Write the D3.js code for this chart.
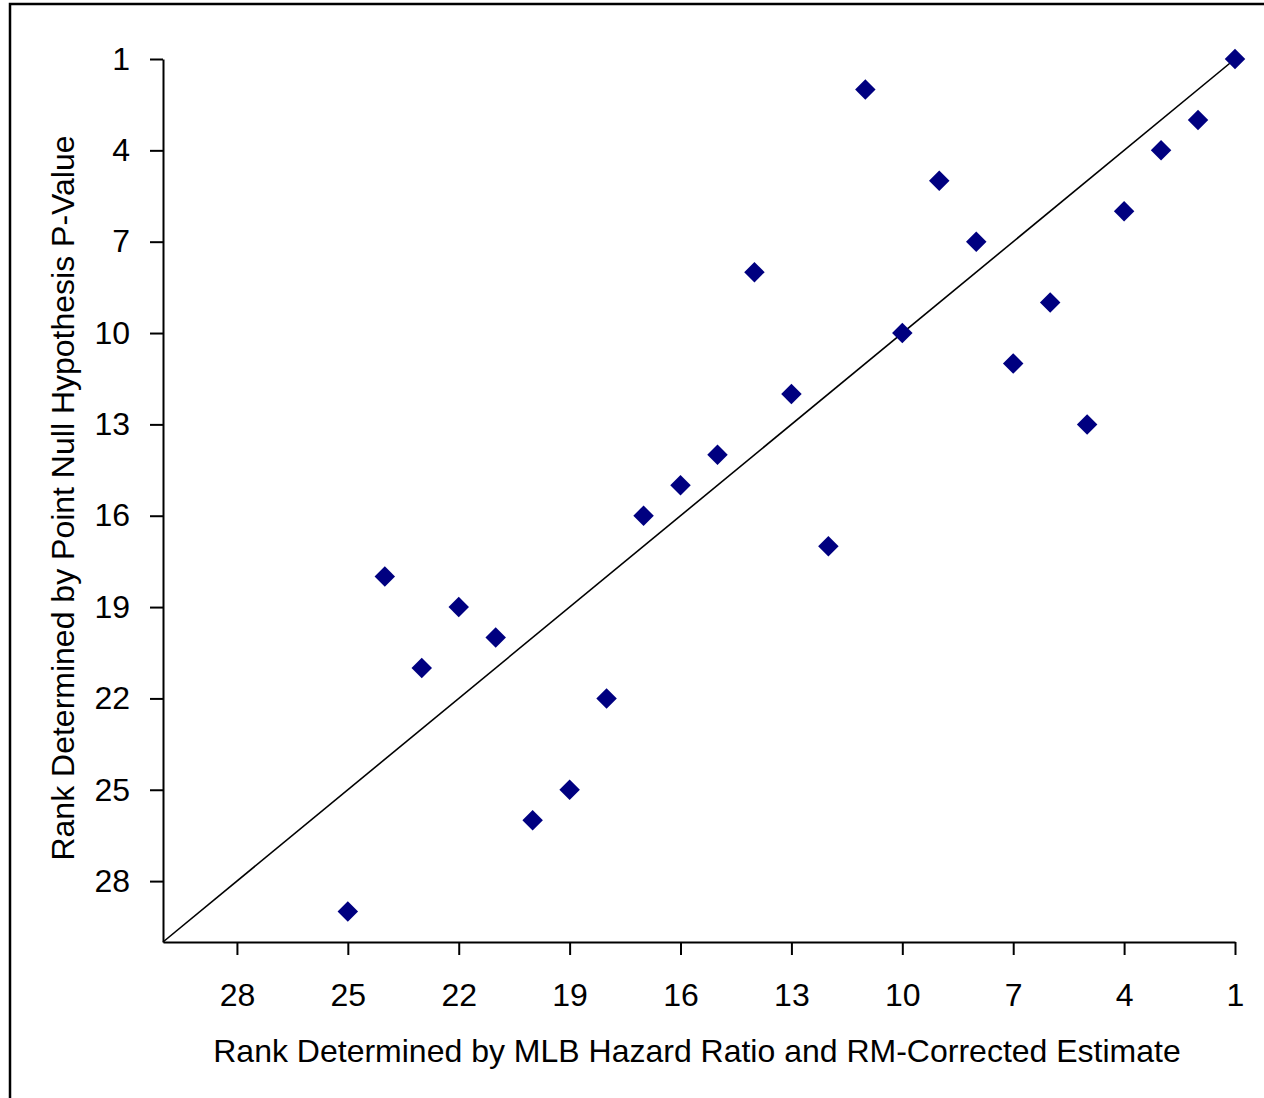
<!DOCTYPE html>
<html>
<head>
<meta charset="utf-8">
<script src="https://cdn.jsdelivr.net/npm/d3@7"></script>
<style>
  body { margin: 0; background: #fff; }
  svg { display: block; font-family: "Liberation Sans", Arial, sans-serif; }
</style>
</head>
<body>
<div id="wrapper"></div>
<script>
// rank by MLB hazard ratio (x) vs rank by p-value (y)
const mlbRank = [1, 11, 2, 3, 9, 4, 8, 14, 6, 10, 7, 13, 5, 15, 16, 17, 12, 24, 22, 21, 23, 18, 19, 20, 25];
const pRank   = [1, 2, 3, 4, 5, 6, 7, 8, 9, 10, 11, 12, 13, 14, 15, 16, 17, 18, 19, 20, 21, 22, 25, 26, 29];
const tickValues = [1, 4, 7, 10, 13, 16, 19, 22, 25, 28];
const diagonal = [30, 1];

const xTitle = "Rank Determined by MLB Hazard Ratio and RM-Corrected Estimate";
const yTitle = "Rank Determined by Point Null Hypothesis P-Value";

const data = mlbRank.map((d, i) => ({x: d, y: pRank[i]}));

const dimension = {
    width: 1264,
    height: 1098,
    margin: {top: 59, left: 163, right: 29, bottom: 156}
};
dimension.boundedWidth = dimension.width - dimension.margin.left - dimension.margin.right;
dimension.boundedHeight = dimension.height - dimension.margin.top - dimension.margin.bottom;

const svg = d3.select("#wrapper").append("svg")
    .attr("width", dimension.width)
    .attr("height", dimension.height);

// outer chart frame (runs off the right and bottom edges)
svg.append("rect")
    .attr("x", 10).attr("y", 4)
    .attr("width", 1300).attr("height", 1200)
    .attr("fill", "none")
    .attr("stroke", "#000")
    .attr("stroke-width", 2.5);

const bounded = svg.append("g")
    .attr("transform", `translate(${dimension.margin.left},${dimension.margin.top})`);

const xScaler = d3.scaleLinear()
    .domain([30, 1])
    .range([0, dimension.boundedWidth]);

const yScaler = d3.scaleLinear()
    .domain([1, 30])
    .range([0, dimension.boundedHeight]);

// axes
const xAxis = d3.axisBottom(xScaler)
    .tickValues(tickValues)
    .tickSize(13)
    .tickPadding(28)
    .tickSizeOuter(0);

const yAxis = d3.axisLeft(yScaler)
    .tickValues(tickValues)
    .tickSize(13)
    .tickPadding(20)
    .tickSizeOuter(0);

const gx = bounded.append("g")
    .attr("transform", `translate(0,${dimension.boundedHeight})`)
    .call(xAxis);

const gy = bounded.append("g")
    .call(yAxis);

[gx, gy].forEach(g => {
    g.selectAll("path.domain").attr("stroke", "#000").attr("stroke-width", 2);
    g.selectAll(".tick line").attr("stroke", "#000").attr("stroke-width", 2);
    g.selectAll(".tick text")
        .attr("fill", "#000")
        .style("font-size", "32px")
        .style("font-family", "Liberation Sans, Arial, sans-serif");
});
gx.selectAll(".tick text").attr("dy", "0.71em");

// 1:1 reference line
bounded.append("line")
    .attr("x1", xScaler(diagonal[0])).attr("y1", yScaler(diagonal[0]))
    .attr("x2", xScaler(diagonal[1])).attr("y2", yScaler(diagonal[1]))
    .attr("stroke", "#000")
    .attr("stroke-width", 1.6);

// diamond markers
const diamond = d3.symbol().type(d3.symbolSquare).size(210);
bounded.selectAll("path.pt")
    .data(data)
    .join("path")
    .attr("class", "pt")
    .attr("d", diamond)
    .attr("transform", d => `translate(${xScaler(d.x)},${yScaler(d.y)}) rotate(45)`)
    .attr("fill", "#000080");

// axis titles
svg.append("text")
    .attr("x", 697)
    .attr("y", 1062)
    .attr("text-anchor", "middle")
    .style("font-size", "32px")
    .text(xTitle);

svg.append("text")
    .attr("transform", "translate(74,498) rotate(-90)")
    .attr("text-anchor", "middle")
    .style("font-size", "32px")
    .text(yTitle);
</script>
</body>
</html>
